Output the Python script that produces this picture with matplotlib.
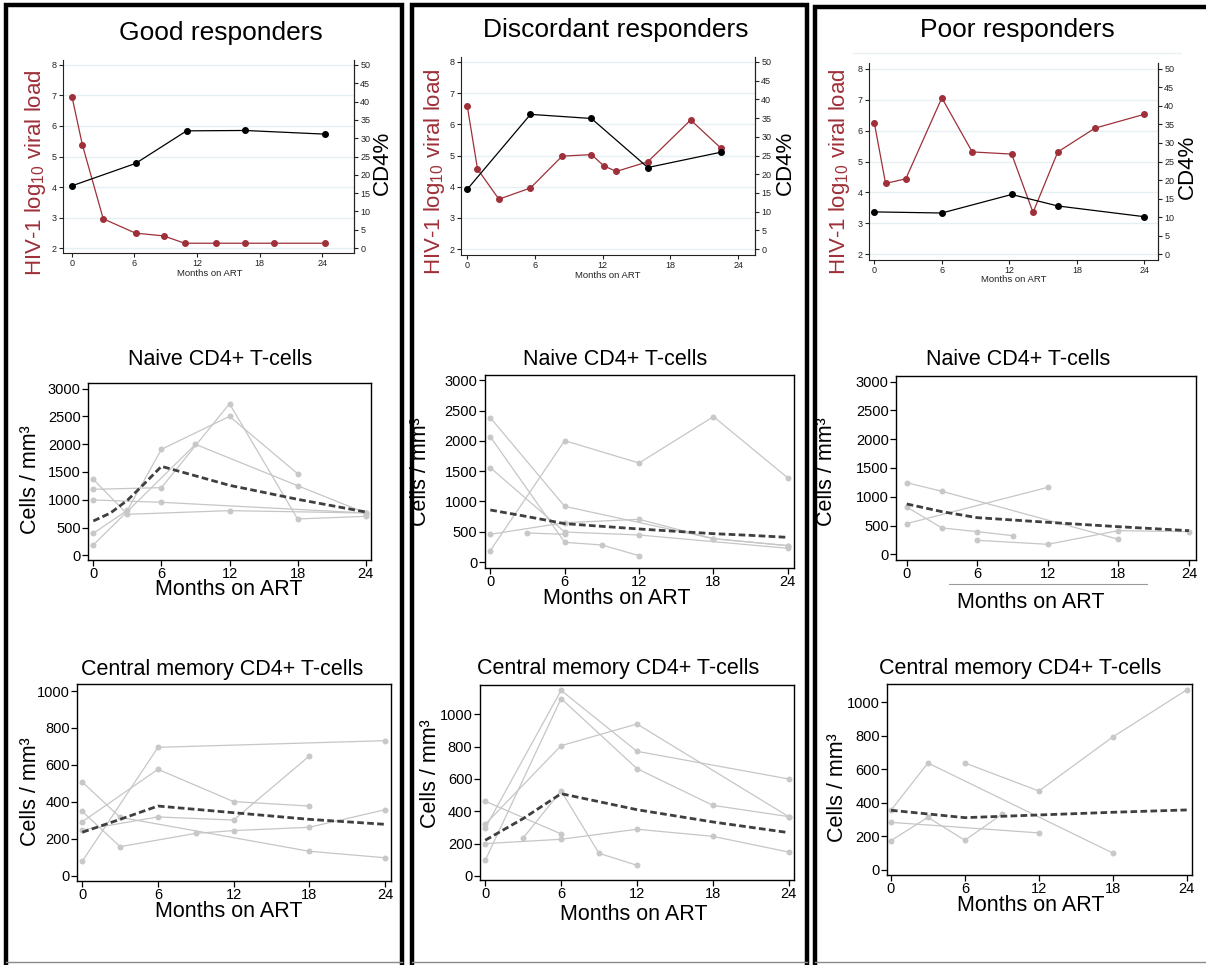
import matplotlib
matplotlib.use("Agg")
import matplotlib.pyplot as plt
from matplotlib.patches import Rectangle
from matplotlib.lines import Line2D

W, H = 1206, 965

# ---- top row: viral load (red, left axis) and CD4% (black, right axis) ----
good_vl_months = [0, 1, 3, 6.1, 8.8, 10.8, 13.8, 16.6, 19.4, 24.3]
good_vl = [6.96, 5.38, 2.96, 2.49, 2.40, 2.16, 2.16, 2.16, 2.16, 2.16]
good_cd4_months = [0, 6.1, 11.0, 16.6, 24.3]
good_cd4 = [17.0, 23.1, 32.0, 32.1, 31.1]

disc_vl_months = [0, 0.9, 2.8, 5.6, 8.4, 11.0, 12.1, 13.2, 16.0, 19.8, 22.5]
disc_vl = [6.58, 4.57, 3.60, 3.96, 4.98, 5.03, 4.67, 4.49, 4.80, 6.14, 5.23]
disc_cd4_months = [0, 5.6, 11.0, 16.0, 22.5]
disc_cd4 = [16.0, 36.0, 34.9, 21.8, 25.9]

poor_vl_months = [0, 1.0, 2.8, 6.0, 8.7, 12.2, 14.1, 16.3, 19.6, 24.0]
poor_vl = [6.26, 4.29, 4.44, 7.06, 5.31, 5.24, 3.35, 5.31, 6.08, 6.53]
poor_cd4_months = [0, 6.0, 12.2, 16.3, 24.0]
poor_cd4 = [11.4, 11.1, 16.1, 13.0, 10.1]

# ---- middle row: naive CD4+ T-cells (one line per subject + mean trend) ----
naive_good_subjects = [
    ([0, 6, 12, 18, 24], [1188, 1218, 2730, 654, 702]),
    ([0, 3, 12, 24], [1368, 738, 804, 762]),
    ([0, 6, 24], [996, 954, 762]),
    ([0, 3, 6, 12, 18], [396, 810, 1908, 2502, 1470]),
    ([0, 9, 18, 24], [186, 1998, 1254, 762]),
]
naive_good_trend_months = [0, 1.5, 3, 4.5, 6, 12, 18, 24]
naive_good_trend = [618, 760, 990, 1290, 1602, 1260, 1008, 780]

naive_disc_subjects = [
    ([0, 6, 12, 18, 24], [187, 2003, 1634, 2400, 1387]),
    ([0, 6, 18, 24], [2383, 919, 385, 270]),
    ([0, 6, 9, 12], [2069, 325, 281, 105]),
    ([0, 6, 12, 24], [1557, 495, 446, 226]),
    ([0, 6, 12, 18, 24], [457, 649, 704, 385, 270]),
    ([3, 6], [479, 457]),
]
naive_disc_trend_months = [0, 3, 6, 9, 12, 15, 18, 21, 24]
naive_disc_trend = [859, 749, 633, 589, 545, 506, 468, 440, 407]

naive_poor_subjects = [
    ([0, 3, 18], [1245, 1095, 261]),
    ([0, 12], [533, 1164]),
    ([0, 3, 6, 9], [822, 458, 394, 324]),
    ([6, 12, 18, 24], [243, 174, 411, 394]),
]
naive_poor_trend_months = [0, 3, 6, 12, 18, 24]
naive_poor_trend = [875, 741, 637, 556, 480, 411]

# ---- bottom row: central memory CD4+ T-cells ----
cm_good_subjects = [
    ([0, 6, 24], [78, 695, 731]),
    ([0, 6, 12, 18], [292, 576, 401, 377]),
    ([0, 3, 18, 24], [507, 316, 132, 97]),
    ([0, 3, 9, 12, 18, 24], [348, 157, 229, 244, 262, 357]),
    ([0, 6, 12, 18], [247, 318, 301, 648]),
]
cm_good_trend_months = [0, 3, 6, 12, 18, 24]
cm_good_trend = [235, 305, 377, 341, 305, 278]

cm_disc_subjects = [
    ([0, 6, 12, 24], [297, 1148, 771, 600]),
    ([0, 6, 12, 18, 24], [97, 1097, 664, 437, 367]),
    ([0, 6, 12, 24], [320, 806, 940, 367]),
    ([0, 6], [462, 260]),
    ([0, 6, 12, 18, 24], [200, 227, 289, 245, 148]),
    ([3, 6, 9, 12], [235, 526, 140, 66]),
]
cm_disc_trend_months = [0, 3, 6, 12, 18, 24]
cm_disc_trend = [221, 355, 509, 410, 334, 268]

cm_poor_subjects = [
    ([0, 3, 18], [356, 638, 101]),
    ([0, 12], [284, 221]),
    ([0, 3, 6, 9], [175, 314, 177, 332]),
    ([6, 12, 18, 24], [638, 471, 793, 1074]),
]
cm_poor_trend_months = [0, 3, 6, 12, 18, 24]
cm_poor_trend = [356, 334, 312, 328, 344, 358]

group_titles = ["Good responders", "Discordant responders", "Poor responders"]
month_ticks = [0, 6, 12, 18, 24]

RED = "#9e3039"
GRAY = "#c6c6c6"
TREND = "#3f3f3f"

plt.rcParams["font.family"] = ["Liberation Sans", "DejaVu Sans"]
plt.rcParams["mathtext.fontset"] = "custom"
plt.rcParams["mathtext.rm"] = "Liberation Sans"
plt.rcParams["mathtext.it"] = "Liberation Sans:italic"


def px_axes(fig, left, top, right, bottom):
    return fig.add_axes([left / W, 1 - bottom / H, (right - left) / W, (bottom - top) / H])


def px_text(fig, x, y, s, **kw):
    fig.text(x / W, 1 - y / H, s, **kw)


def top_panel(fig, box, xlim, ylim, vl_x, vl_y, cd4_x, cd4_y):
    ax = px_axes(fig, *box)
    ax.set_xlim(*xlim)
    ax.set_ylim(*ylim)
    ax.set_yticks(range(2, 9))
    ax.set_xticks(month_ticks)
    ax.yaxis.grid(True, color="#e6eff1", lw=1)
    ax.set_axisbelow(True)
    ax.spines["top"].set_visible(False)
    for s in ("left", "bottom", "right"):
        ax.spines[s].set_color("#222222")
        ax.spines[s].set_linewidth(0.8)
    ax.tick_params(direction="out", length=3, width=0.8, labelsize=6.5,
                   colors="#222222", pad=1.5)

    ax2 = ax.twinx()
    ax2.set_ylim((ylim[0] - 2) * 50 / 6, (ylim[1] - 2) * 50 / 6)
    ax2.set_yticks(range(0, 51, 5))
    for s in ("left", "top", "bottom"):
        ax2.spines[s].set_visible(False)
    ax2.spines["right"].set_color("#222222")
    ax2.spines["right"].set_linewidth(0.8)
    ax2.tick_params(direction="out", length=3, width=0.8, labelsize=6.5,
                    colors="#222222", pad=1.5)

    ax.plot(vl_x, vl_y, color=RED, lw=0.9, marker="o", ms=4, mec=RED, mfc=RED,
            clip_on=False, zorder=3)
    ax2.plot(cd4_x, cd4_y, color="black", lw=0.9, marker="o", ms=4,
             clip_on=False, zorder=3)
    return ax


def cell_panel(fig, box, xlim, ylim, yticks, subjects, trend_x, trend_y):
    ax = px_axes(fig, *box)
    for xs, ys in subjects:
        ax.plot(xs, ys, color=GRAY, lw=0.9, marker="o", ms=4.3, mfc="#c8c8c8",
                mec="none", clip_on=False, zorder=2)
    ax.plot(trend_x, trend_y, color=TREND, lw=2, ls=(0, (2.4, 1.2)), zorder=3)
    ax.set_xlim(*xlim)
    ax.set_ylim(*ylim)
    ax.set_xticks(month_ticks)
    ax.set_yticks(yticks)
    for s in ax.spines.values():
        s.set_linewidth(1)
        s.set_color("black")
    ax.tick_params(direction="out", length=4, width=0.9, labelsize=10.5, pad=1.2,
                   top=False, right=False)
    return ax


def main() -> None:
    fig = plt.figure(figsize=(W / 100, H / 100), dpi=100)

    # column frames
    for x0, x1, y0 in [(6, 402, 5), (412, 807, 5), (815, 1212, 7)]:
        fig.add_artist(Rectangle((x0 / W, 1 - 972 / H), (x1 - x0) / W, (972 - y0) / H,
                                 transform=fig.transFigure, fill=False,
                                 ec="black", lw=3.2))
        fig.add_artist(Line2D([x0 / W, x1 / W], [1 - 962 / H] * 2,
                              transform=fig.transFigure, color="#8a8a8a", lw=1))

    # faint stray lines seen in the original panels
    fig.add_artist(Line2D([853 / W, 1181 / W], [1 - 53 / H] * 2,
                          transform=fig.transFigure, color="#eaf1f2", lw=1))
    fig.add_artist(Line2D([949 / W, 1147 / W], [1 - 584 / H] * 2,
                          transform=fig.transFigure, color="#9a9a9a", lw=0.8))

    # --- top row ---
    top_panel(fig, (63, 60, 354, 253), (-0.86, 27.06), (1.84, 8.16),
              good_vl_months, good_vl, good_cd4_months, good_cd4)
    top_panel(fig, (461, 57, 755, 255), (-0.56, 25.5), (1.81, 8.16),
              disc_vl_months, disc_vl, disc_cd4_months, disc_cd4)
    top_panel(fig, (869, 63, 1158, 260), (-0.47, 25.2), (1.81, 8.19),
              poor_vl_months, poor_vl, poor_cd4_months, poor_cd4)

    title_pos = [(221, 40), (616, 37), (1017, 37.5)]
    for (x, y), t in zip(title_pos, group_titles):
        px_text(fig, x, y, t, fontsize=19, ha="center", va="baseline")

    vl_label = "HIV-1 log$_{10}$ viral load"
    for x, y in [(36, 173), (434, 172), (839, 172)]:
        px_text(fig, x, y, vl_label, fontsize=16, color=RED, rotation=90,
                ha="center", va="center")
    for x, y in [(382, 163), (785, 163), (1187, 167)]:
        px_text(fig, x, y, "CD4%", fontsize=16, rotation=90, ha="center", va="center")
    for x, y in [(210, 276.5), (608, 278), (1014, 282.5)]:
        px_text(fig, x, y, "Months on ART", fontsize=6.8, ha="center", va="baseline",
                color="#222222")

    # --- middle row: naive ---
    naive_ticks = range(0, 3001, 500)
    cell_panel(fig, (88, 383, 371, 560), (-0.47, 24.47), (-85, 3103), naive_ticks,
               naive_good_subjects, naive_good_trend_months, naive_good_trend)
    cell_panel(fig, (484.7, 374.7, 793.7, 567.7), (-0.45, 24.47), (-94, 3092), naive_ticks,
               naive_disc_subjects, naive_disc_trend_months, naive_disc_trend)
    cell_panel(fig, (896, 376, 1196, 560), (-0.91, 24.6), (-99, 3099), naive_ticks,
               naive_poor_subjects, naive_poor_trend_months, naive_poor_trend)

    for x, y in [(220.5, 365.5), (615.5, 365.5), (1018, 365)]:
        px_text(fig, x, y, "Naive CD4+ T-cells", fontsize=15.5, ha="center", va="baseline")
    for x, y in [(229, 595), (617, 604), (1031, 608)]:
        px_text(fig, x, y, "Months on ART", fontsize=15.5, ha="center", va="baseline")
    for x, y in [(30, 480), (420, 472), (826, 472)]:
        px_text(fig, x, y, "Cells / mm³", fontsize=15.5, rotation=90,
                ha="center", va="center")

    # --- bottom row: central memory ---
    cm_ticks = range(0, 1001, 200)
    cell_panel(fig, (77, 684, 391, 881), (-0.42, 24.48), (-29, 1038), cm_ticks,
               cm_good_subjects, cm_good_trend_months, cm_good_trend)
    cell_panel(fig, (479.7, 684.7, 793.7, 880), (-0.44, 24.4), (-25, 1183), cm_ticks,
               cm_disc_subjects, cm_disc_trend_months, cm_disc_trend)
    cell_panel(fig, (887, 684, 1192, 875), (-0.32, 24.43), (-30, 1109), cm_ticks,
               cm_poor_subjects, cm_poor_trend_months, cm_poor_trend)

    for x, y in [(222, 675), (618, 674), (1020, 674)]:
        px_text(fig, x, y, "Central memory CD4+ T-cells", fontsize=15.5,
                ha="center", va="baseline")
    for x, y in [(229, 917), (634, 920), (1031, 911)]:
        px_text(fig, x, y, "Months on ART", fontsize=15.5, ha="center", va="baseline")
    for x, y in [(30, 792), (431, 774), (838, 788)]:
        px_text(fig, x, y, "Cells / mm³", fontsize=15.5, rotation=90,
                ha="center", va="center")

    fig.savefig("out.png", dpi=100)
    plt.close(fig)


if __name__ == "__main__":
    main()
